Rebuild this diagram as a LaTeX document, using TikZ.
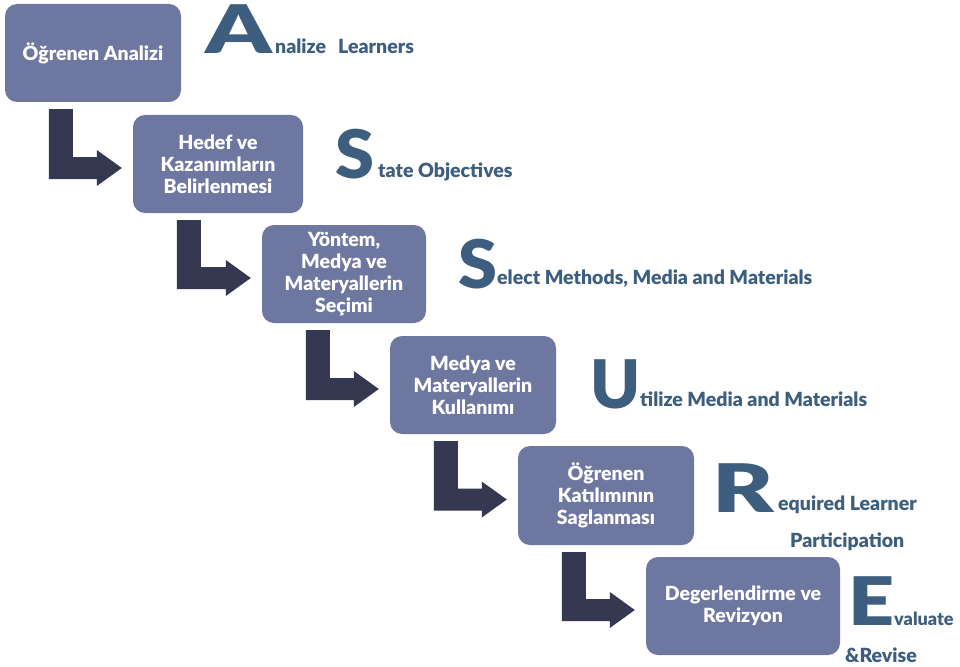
\documentclass[tikz,border=0pt]{standalone}
\usepackage{fontspec}
\setmainfont{Lato}[BoldFont={Lato Black}]
\usetikzlibrary{calc}
\definecolor{boxc}{HTML}{6E77A0}
\definecolor{letc}{HTML}{3D5E7E}
\definecolor{arrc}{HTML}{343850}
\tikzset{
  stepbox/.style={fill=boxc, rounded corners=12pt, text=white, align=center,
    font=\fontsize{19.5}{22}\selectfont\bfseries, inner sep=2pt},
  bigl/.style={text=letc, inner sep=0pt, anchor=base west,
    font=\fontsize{67}{67}\selectfont\bfseries},
  smallt/.style={text=letc, inner sep=0pt, anchor=base west,
    font=\fontsize{19.5}{22}\selectfont\bfseries},
}
\newcommand\Larrow[2]{%
  \fill[arrc] let \p1=(#1.south west), \p2=(#2.west) in
    ({\x1+44pt},{\y1-7pt}) -- ({\x1+68pt},{\y1-7pt}) --
    ({\x1+68pt},{\y2+7pt}) -- ({\x2-36pt},{\y2+7pt}) --
    ({\x2-36pt},{\y2+14pt}) -- ({\x2-11pt},{\y2-4pt}) --
    ({\x2-36pt},{\y2-22pt}) -- ({\x2-36pt},{\y2-15pt}) --
    ({\x1+44pt},{\y2-15pt}) -- cycle;}
\begin{document}
\begin{tikzpicture}[x=1pt,y=-1pt]
\useasboundingbox (0,0) rectangle (960,666);
% boxes
\node[stepbox, minimum width=176pt, minimum height=98pt] (b1) at (93,53) {Öğrenen Analizi};
\node[stepbox, minimum width=170pt, minimum height=98pt] (b2) at (218,164) {Hedef ve\\Kazanımların\\Belirlenmesi};
\node[stepbox, minimum width=164pt, minimum height=98pt] (b3) at (344,274) {Yöntem,\\Medya ve\\Materyallerin\\Seçimi};
\node[stepbox, minimum width=166pt, minimum height=98pt] (b4) at (473,385) {Medya ve\\Materyallerin\\Kullanımı};
\node[stepbox, minimum width=176pt, minimum height=99pt] (b5) at (606,495.5) {Öğrenen\\Katılımının\\Saglanması};
\node[stepbox, minimum width=194pt, minimum height=98pt] (b6) at (743,606) {Degerlendirme ve\\Revizyon};
% arrows
\Larrow{b1}{b2}
\Larrow{b2}{b3}
\Larrow{b3}{b4}
\Larrow{b4}{b5}
\Larrow{b5}{b6}
% labels
\node[bigl] (lA) at (205,54) {\scalebox{1.4}[1]{A}};
\node[smallt] (tA) at (275,54) {nalize};
\node[smallt] (tA2) at (338,54) {Learners};
\node[bigl] (lS1) at (335,178) {\scalebox{1.05}[1]{S}};
\node[smallt] (tS1) at (378,177) {tate Objectives};
\node[bigl] (lS2) at (458,288) {\scalebox{1.05}[1]{S}};
\node[smallt] (tS2) at (497,284) {elect Methods, Media and Materials};
\node[bigl] (lU) at (590,408) {U};
\node[smallt] (tU) at (640,406) {tilize Media and Materials};
\node[bigl] (lR) at (712,512) {\scalebox{1.4}[1]{R}};
\node[smallt] (tR) at (778,510) {equired Learner};
\node[smallt] (tR2) at (790,547) {Participation};
\node[bigl] (lE) at (848,625) {\scalebox{1.2}[1]{E}};
\node[smallt, font=\fontsize{18}{22}\selectfont\bfseries] (tE) at (894,625) {valuate};
\node[smallt] (tE2) at (845,662) {\&Revise};
\end{tikzpicture}
\end{document}
